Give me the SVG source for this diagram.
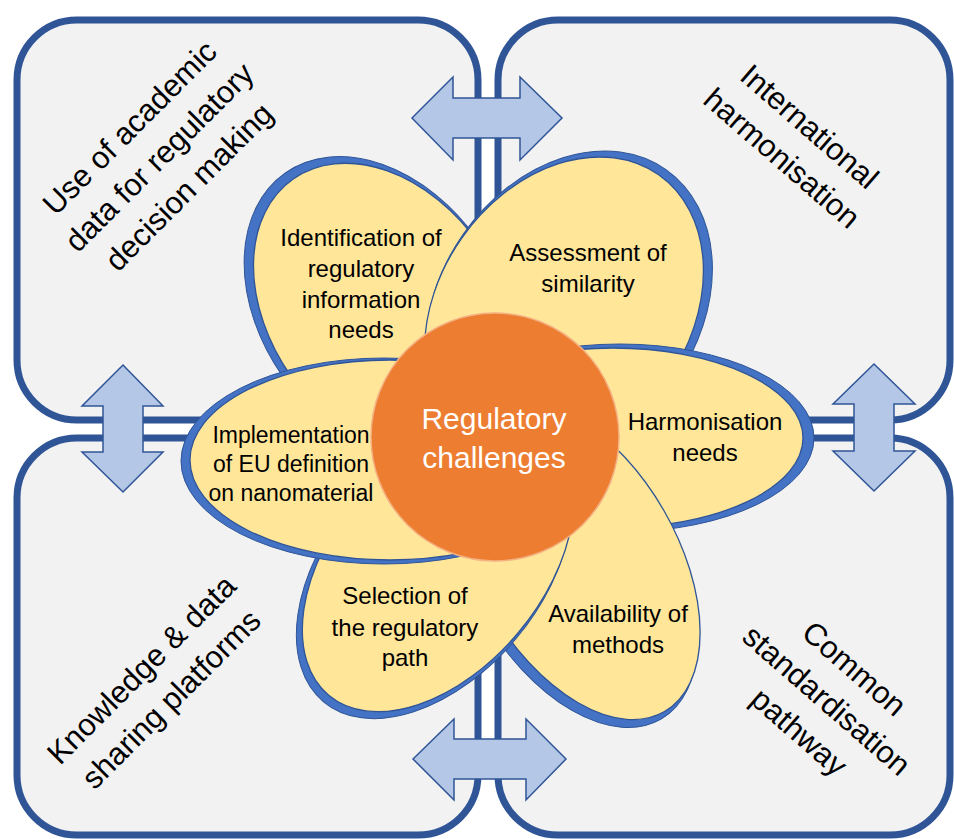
<svg xmlns="http://www.w3.org/2000/svg" width="954" height="839" viewBox="0 0 954 839">
<style>
.box{fill:#F2F2F2;stroke:#2F5597;stroke-width:7}
.arr{fill:#B4C7E7;stroke:#2F5597;stroke-width:1.5;stroke-linejoin:miter}
.sh{fill:#4472C4;stroke:#2F5597;stroke-width:1}
.pt{fill:#FFE699;stroke:#2F5597;stroke-width:1.3}
.ct{font-family:"Liberation Sans",Arial,sans-serif;font-size:31px;fill:#000;text-anchor:middle}
.tx{font-family:"Liberation Sans",Arial,sans-serif;font-size:24px;fill:#000;text-anchor:middle}
.tx2{font-family:"Liberation Sans",Arial,sans-serif;font-size:23px;fill:#000;text-anchor:middle}
.hub{font-family:"Liberation Sans",Arial,sans-serif;font-size:30px;fill:#fff;text-anchor:middle}
</style>
<rect width="954" height="839" fill="#fff"/>
<g id="box-academic">
<rect class="box" x="17" y="20" width="461" height="400" rx="60"/>
<g class="ct" transform="translate(159,157) rotate(-45)"><text x="0" y="-31">Use of academic</text><text x="0" y="11">data for regulatory</text><text x="0" y="53">decision making</text></g>
</g>
<g id="box-international">
<rect class="box" x="498" y="20" width="452" height="400" rx="60"/>
<g class="ct" transform="translate(796,142) rotate(41)"><text x="0" y="-10">International</text><text x="0" y="32">harmonisation</text></g>
</g>
<g id="box-knowledge">
<rect class="box" x="17" y="438" width="461" height="397" rx="60"/>
<g class="ct" transform="translate(156,684) rotate(-45)"><text x="0" y="-10">Knowledge &amp; data</text><text x="0" y="32">sharing platforms</text></g>
</g>
<g id="box-standardisation">
<rect class="box" x="498" y="438" width="452" height="397" rx="60"/>
<g class="ct" transform="translate(827,700) rotate(41)"><text x="0" y="-31">Common</text><text x="0" y="11">standardisation</text><text x="0" y="53">pathway</text></g>
</g>
<g id="connectors">
<polygon class="arr" points="412,118 453,77 453,98 520,98 520,77 562,118 520,160 520,138 453,138 453,160"/>
<polygon class="arr" points="413,759 454,719 454,739 526,739 526,719 566,759 526,800 526,779 454,779 454,800"/>
<polygon class="arr" points="123,365 163,406 143,406 143,452 163,452 123,492 82,452 103,452 103,406 82,406"/>
<polygon class="arr" points="874,364 915,404 894,404 894,451 915,451 874,491 833,451 854,451 854,404 833,404"/>
</g>
<g id="petal-identification">
<ellipse class="sh" cx="380" cy="308" rx="165" ry="119" transform="rotate(55 380 308)"/>
<ellipse class="pt" cx="385" cy="310" rx="160" ry="115" transform="rotate(55 385 310)"/>
<text class="tx" x="361" y="246">Identification of</text>
<text class="tx" x="361" y="277">regulatory</text>
<text class="tx" x="361" y="308">information</text>
<text class="tx" x="361" y="338">needs</text>
</g>
<g id="petal-assessment">
<ellipse class="sh" cx="569" cy="308" rx="169" ry="129" transform="rotate(-55 569 308)"/>
<ellipse class="pt" cx="564" cy="310" rx="165" ry="125" transform="rotate(-55 564 310)"/>
<text class="tx" x="588" y="261">Assessment of</text>
<text class="tx" x="588" y="292">similarity</text>
</g>
<g id="petal-harmonisation">
<ellipse class="sh" cx="620" cy="438" rx="194" ry="94"/>
<ellipse class="pt" cx="613" cy="438" rx="190" ry="90"/>
<text class="tx" x="705" y="430">Harmonisation</text>
<text class="tx" x="705" y="461">needs</text>
</g>
<g id="petal-availability">
<ellipse class="sh" cx="572" cy="565" rx="178" ry="103" transform="rotate(60 572 565)"/>
<ellipse class="pt" cx="577" cy="560" rx="175" ry="100" transform="rotate(60 577 560)"/>
<text class="tx" x="618" y="622">Availability of</text>
<text class="tx" x="618" y="653">methods</text>
</g>
<g id="petal-selection">
<ellipse class="sh" cx="434" cy="570" rx="172" ry="107" transform="rotate(-50 434 570)"/>
<ellipse class="pt" cx="438" cy="565" rx="170" ry="105" transform="rotate(-50 438 565)"/>
<text class="tx" x="405" y="604">Selection of</text>
<text class="tx" x="405" y="636">the regulatory</text>
<text class="tx" x="405" y="666">path</text>
</g>
<g id="petal-implementation">
<ellipse class="sh" cx="384" cy="461" rx="203" ry="103"/>
<ellipse class="pt" cx="390" cy="460" rx="200" ry="100"/>
<text class="tx2" x="291" y="443">Implementation</text>
<text class="tx2" x="291" y="472">of EU definition</text>
<text class="tx2" x="291" y="501">on nanomaterial</text>
</g>
<g id="hub">
<circle cx="495" cy="437" r="124" fill="#ED7D31" stroke="#F4B183" stroke-width="1.5"/>
<text class="hub" x="494" y="429">Regulatory</text>
<text class="hub" x="494" y="468">challenges</text>
</g>
</svg>
